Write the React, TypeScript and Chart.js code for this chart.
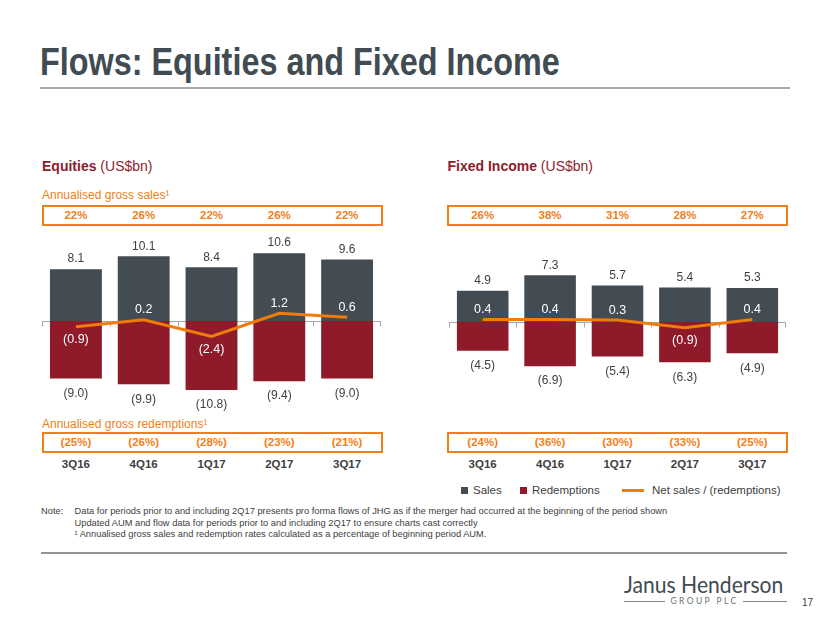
import React, { useEffect, useRef } from "react";
import { Chart, registerables } from "chart.js";

Chart.register(...registerables);

// ---------- DATA ----------
const quarters = ["3Q16", "4Q16", "1Q17", "2Q17", "3Q17"];

const eqSales = [8.1, 10.1, 8.4, 10.6, 9.6];
const eqRedemptions = [-9.0, -9.9, -10.8, -9.4, -9.0];
const eqNet = [-0.9, 0.2, -2.4, 1.2, 0.6];
const eqSalesRate = ["22%", "26%", "22%", "26%", "22%"];
const eqRedRate = ["(25%)", "(26%)", "(28%)", "(23%)", "(21%)"];

const fiSales = [4.9, 7.3, 5.7, 5.4, 5.3];
const fiRedemptions = [-4.5, -6.9, -5.4, -6.3, -4.9];
const fiNet = [0.4, 0.4, 0.3, -0.9, 0.4];
const fiSalesRate = ["26%", "38%", "31%", "28%", "27%"];
const fiRedRate = ["(24%)", "(36%)", "(30%)", "(33%)", "(25%)"];

const yRange = [-15, 15];

// ---------- STYLE ----------
const SANS = "'Liberation Sans', Arial, Helvetica, sans-serif";
const C_TITLE = "#414B52";
const C_HEAD = "#8C1D2D";
const C_ORANGE = "#EF7F1A";
const C_TEXT = "#404040";
const C_SALES = "#434C53";
const C_RED = "#8E1A2A";
const C_NET = "#F07C0A";

const fmt = (v: number) => (v < 0 ? `(${Math.abs(v).toFixed(1)})` : v.toFixed(1));

const flowPlugin = {
  id: "flowDecor",
  beforeDatasetsDraw(chart: any) {
    const { ctx, chartArea, scales } = chart;
    const y0 = Math.round(scales.y.getPixelForValue(0)) + 0.5;
    const n = chart.data.labels.length;
    const w = (chartArea.right - chartArea.left) / n;
    ctx.save();
    ctx.strokeStyle = "#A9A9A9";
    ctx.lineWidth = 1;
    ctx.beginPath();
    ctx.moveTo(chartArea.left, y0);
    ctx.lineTo(chartArea.right, y0);
    for (let i = 0; i <= n; i++) {
      let x = Math.round(chartArea.left + i * w) + 0.5;
      if (i === n) x -= 1;
      ctx.moveTo(x, y0);
      ctx.lineTo(x, y0 + 5);
    }
    ctx.stroke();
    ctx.restore();
  },
  afterDatasetsDraw(chart: any) {
    const { ctx } = chart;
    ctx.save();
    ctx.textAlign = "center";
    ctx.textBaseline = "middle";
    chart.data.datasets.forEach((ds: any, di: number) => {
      const meta = chart.getDatasetMeta(di);
      meta.data.forEach((el: any, i: number) => {
        const v = ds.data[i] as number;
        let y = el.y;
        if (di === 0) {
          ctx.fillStyle = C_TEXT;
          ctx.font = `12px ${SANS}`;
          y = el.y - 10;
        } else if (di === 1) {
          ctx.fillStyle = C_TEXT;
          ctx.font = `12px ${SANS}`;
          y = el.y + 15;
        } else {
          ctx.fillStyle = "#FFFFFF";
          ctx.font = `12.5px ${SANS}`;
          y = v >= 0 ? el.y - 10 : el.y + 13;
        }
        ctx.fillText(fmt(v), el.x, y);
      });
    });
    ctx.restore();
  },
};

function FlowChart(props: {
  sales: number[];
  redemptions: number[];
  net: number[];
  left: number;
  top: number;
  width: number;
  height: number;
}) {
  const ref = useRef<HTMLCanvasElement | null>(null);
  useEffect(() => {
    if (!ref.current) return;
    const chart = new Chart(ref.current, {
      type: "bar",
      data: {
        labels: quarters,
        datasets: [
          {
            type: "bar",
            label: "Sales",
            data: props.sales,
            backgroundColor: C_SALES,
            categoryPercentage: 1,
            barPercentage: 0.765,
            order: 2,
          },
          {
            type: "bar",
            label: "Redemptions",
            data: props.redemptions,
            backgroundColor: C_RED,
            categoryPercentage: 1,
            barPercentage: 0.765,
            order: 2,
          },
          {
            type: "line",
            label: "Net sales / (redemptions)",
            data: props.net,
            borderColor: C_NET,
            borderWidth: 3,
            pointRadius: 0,
            tension: 0,
            order: 1,
          } as any,
        ],
      },
      options: {
        responsive: false,
        animation: false,
        events: [],
        layout: { padding: 0 },
        plugins: { legend: { display: false }, tooltip: { enabled: false } },
        scales: {
          x: { display: false, stacked: true, offset: true },
          y: { display: false, stacked: false, min: yRange[0], max: yRange[1] },
        },
      },
      plugins: [flowPlugin],
    });
    return () => chart.destroy();
  }, []);
  return (
    <canvas
      ref={ref}
      width={props.width}
      height={props.height}
      style={{
        position: "absolute",
        left: props.left,
        top: props.top,
        width: props.width,
        height: props.height,
      }}
    />
  );
}

function Txt(props: {
  x: number;
  cy: number;
  fs: number;
  center?: boolean;
  style?: React.CSSProperties;
  children: React.ReactNode;
}) {
  return (
    <div
      style={{
        position: "absolute",
        left: props.x,
        top: props.cy - props.fs * 0.5,
        fontSize: props.fs,
        lineHeight: `${props.fs}px`,
        whiteSpace: "nowrap",
        transform: props.center ? "translateX(-50%)" : undefined,
        ...props.style,
      }}
    >
      {props.children}
    </div>
  );
}

function RateBox(props: { left: number; top: number; width: number; rates: string[]; chartLeft: number; chartWidth: number }) {
  const cw = props.chartWidth / props.rates.length;
  return (
    <>
      <div
        style={{
          position: "absolute",
          left: props.left,
          top: props.top,
          width: props.width,
          height: 21,
          boxSizing: "border-box",
          border: `2px solid ${C_ORANGE}`,
        }}
      />
      {props.rates.map((r, i) => (
        <Txt
          key={i}
          x={props.chartLeft + (i + 0.5) * cw}
          cy={props.top + 11}
          fs={11.5}
          center
          style={{ color: C_ORANGE, fontWeight: "bold" }}
        >
          {r}
        </Txt>
      ))}
    </>
  );
}

export default function App() {
  const eqLeft = 42;
  const eqW = 339;
  const fiLeft = 449;
  const fiW = 337;
  return (
    <div
      style={{
        position: "absolute",
        left: 0,
        top: 0,
        width: 830,
        height: 623,
        background: "#FFFFFF",
        fontFamily: SANS,
        overflow: "hidden",
      }}
    >
      {/* Title */}
      <div
        style={{
          position: "absolute",
          left: 40,
          top: 42,
          fontSize: 39,
          lineHeight: "39px",
          fontWeight: "bold",
          color: C_TITLE,
          whiteSpace: "nowrap",
          transform: "scaleX(0.83)",
          transformOrigin: "0 0",
        }}
      >
        Flows: Equities and Fixed Income
      </div>
      <div style={{ position: "absolute", left: 40, top: 87, width: 750, height: 2, background: "#A7AAAD" }} />

      {/* Headers */}
      <Txt x={42} cy={165.5} fs={14} style={{ color: C_HEAD }}>
        <b>Equities</b> (US$bn)
      </Txt>
      <Txt x={447.5} cy={165.5} fs={14} style={{ color: C_HEAD }}>
        <b>Fixed Income</b> (US$bn)
      </Txt>

      <Txt x={42} cy={195} fs={12} style={{ color: C_ORANGE }}>
        Annualised gross sales¹
      </Txt>
      <RateBox left={42} top={205} width={341} rates={eqSalesRate} chartLeft={eqLeft} chartWidth={eqW} />
      <RateBox left={447} top={205} width={341} rates={fiSalesRate} chartLeft={fiLeft} chartWidth={fiW} />

      <FlowChart sales={eqSales} redemptions={eqRedemptions} net={eqNet} left={eqLeft} top={225} width={eqW} height={192} />
      <FlowChart sales={fiSales} redemptions={fiRedemptions} net={fiNet} left={fiLeft} top={226} width={fiW} height={192} />

      <Txt x={42} cy={424} fs={12} style={{ color: C_ORANGE }}>
        Annualised gross redemptions¹
      </Txt>
      <RateBox left={42} top={432} width={341} rates={eqRedRate} chartLeft={eqLeft} chartWidth={eqW} />
      <RateBox left={447} top={432} width={341} rates={fiRedRate} chartLeft={fiLeft} chartWidth={fiW} />

      {quarters.map((q, i) => (
        <Txt key={"eq" + q} x={eqLeft + (i + 0.5) * (eqW / 5)} cy={464.5} fs={11.5} center style={{ color: C_TEXT, fontWeight: "bold" }}>
          {q}
        </Txt>
      ))}
      {quarters.map((q, i) => (
        <Txt key={"fi" + q} x={fiLeft + (i + 0.5) * (fiW / 5)} cy={464.5} fs={11.5} center style={{ color: C_TEXT, fontWeight: "bold" }}>
          {q}
        </Txt>
      ))}

      {/* Legend */}
      <div style={{ position: "absolute", left: 461, top: 487, width: 7, height: 7, background: C_SALES }} />
      <Txt x={473} cy={490.5} fs={11.5} style={{ color: C_TEXT }}>Sales</Txt>
      <div style={{ position: "absolute", left: 520, top: 487, width: 7, height: 7, background: C_RED }} />
      <Txt x={532} cy={490.5} fs={11.5} style={{ color: C_TEXT }}>Redemptions</Txt>
      <div style={{ position: "absolute", left: 622, top: 489, width: 22, height: 3, background: C_NET }} />
      <Txt x={652} cy={490.5} fs={11.5} style={{ color: C_TEXT }}>Net sales / (redemptions)</Txt>

      {/* Notes */}
      <Txt x={41} cy={512} fs={9.3} style={{ color: C_TEXT }}>Note:</Txt>
      <Txt x={74.5} cy={512} fs={9.3} style={{ color: C_TEXT }}>
        Data for periods prior to and including 2Q17 presents pro forma flows of JHG as if the merger had occurred at the beginning of the period shown
      </Txt>
      <Txt x={74.5} cy={523.3} fs={9.3} style={{ color: C_TEXT }}>
        Updated AUM and flow data for periods prior to and including 2Q17 to ensure charts cast correctly
      </Txt>
      <Txt x={74.5} cy={534.3} fs={9.3} style={{ color: C_TEXT }}>
        ¹ Annualised gross sales and redemption rates calculated as a percentage of beginning period AUM.
      </Txt>
      <div style={{ position: "absolute", left: 41, top: 552, width: 746, height: 1.5, background: "#8E9397" }} />

      {/* Logo */}
      <div
        style={{
          position: "absolute",
          left: 624,
          top: 572,
          fontSize: 24,
          lineHeight: "24px",
          fontFamily: "Lato, 'Open Sans', sans-serif",
          fontWeight: 400,
          color: C_TITLE,
          whiteSpace: "nowrap",
          transform: "scaleX(0.88)",
          transformOrigin: "0 0",
        }}
      >
        Janus Henderson
      </div>
      <div style={{ position: "absolute", left: 624, top: 601, width: 41, height: 1, background: "#7E868B" }} />
      <div style={{ position: "absolute", left: 743, top: 601, width: 44, height: 1, background: "#7E868B" }} />
      <Txt x={704.5} cy={601.5} fs={8.5} center style={{ color: "#6A7378", letterSpacing: 2.4, fontFamily: "Lato, sans-serif" }}>
        GROUP PLC
      </Txt>
      <Txt x={802} cy={603} fs={10} style={{ color: C_TEXT }}>17</Txt>
    </div>
  );
}
